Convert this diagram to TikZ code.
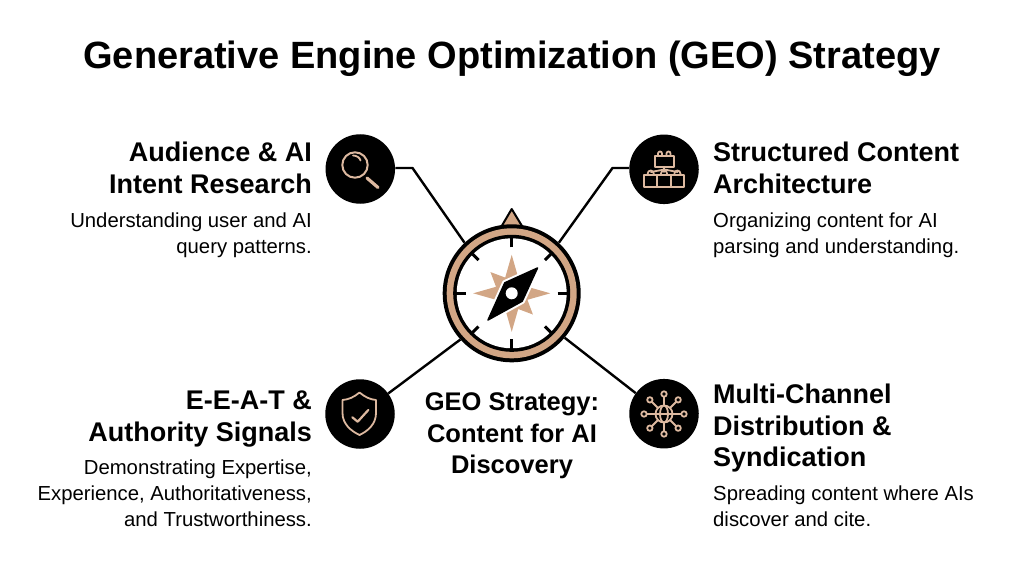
\documentclass[tikz,border=0pt]{standalone}
\usepackage{fontspec}
\setmainfont{Liberation Sans}
\usetikzlibrary{calc}
\definecolor{tanc}{HTML}{D2A685}
\definecolor{icoc}{HTML}{DDB9A0}
\tikzset{
  x=1pt,y=-1pt,
  disc/.style={circle,fill=black,draw=none,minimum size=69.5pt,inner sep=0pt},
  hub/.style={circle,draw=none,minimum size=138pt,inner sep=0pt},
  link/.style={draw=black,line width=2.4pt,line join=round},
  ico/.style={draw=icoc,line width=1.8pt,line join=round,line cap=round},
  tickm/.style={draw=black,line width=3pt},
  headl/.style={font=\fontsize{27}{31.5}\selectfont\bfseries,align=right,anchor=north east,inner sep=0pt},
  headr/.style={font=\fontsize{27}{31.5}\selectfont\bfseries,align=left,anchor=north west,inner sep=0pt},
  bodyl/.style={font=\fontsize{20.3}{26}\selectfont,align=right,anchor=north east,inner sep=0pt},
  bodyr/.style={font=\fontsize{20.3}{26}\selectfont,align=left,anchor=north west,inner sep=0pt}
}
\begin{document}
\begin{tikzpicture}
\useasboundingbox (0,0) rectangle (1024,572);
\fill[white] (0,0) rectangle (1024,572);
\node[font=\fontsize{38}{46}\selectfont\bfseries,inner sep=0pt] (title) at (512,59) {Generative Engine Optimization (GEO) Strategy};
% hub and discs
\node[hub] (hub) at (511.7,293.3) {};
\node[disc] (c1) at (360.3,169) {};
\node[disc] (c2) at (664,169.3) {};
\node[disc] (c3) at (360,414) {};
\node[disc] (c4) at (664,413.7) {};
% connectors
\coordinate (k1) at (412.5,168);
\coordinate (k2) at (612.5,168);
\draw[link] (c1.east |- k1) -- (k1) -- (hub.133);
\draw[link] (c2.west |- k2) -- (k2) -- (hub.47);
\draw[link] (c3.36) -- (hub.222);
\draw[link] (c4.144) -- (hub.320);
% compass
\fill[tanc,draw=black,line width=2pt,line join=round] (501.7,226) -- (511.7,209) -- (522,226) -- cycle;
\fill[black] (hub.center) circle (69);
\fill[tanc] (hub.center) circle (65);
\fill[black] (hub.center) circle (58.5);
\fill[white] (hub.center) circle (55);
\foreach \a in {0,90,180,270}{\draw[tickm] ($(hub.center)+(\a:46)$) -- ($(hub.center)+(\a:55.5)$);}
\foreach \a in {45,135,225,315}{\draw[tickm] ($(hub.center)+(\a:47)$) -- ($(hub.center)+(\a:55.5)$);}
\fill[tanc] ($(hub.center)+(0:38.5)$)
  \foreach \a/\r in {22.5/17,45/30,67.5/17,90/38.5,112.5/17,135/30,157.5/17,180/38.5,202.5/17,225/30,247.5/17,270/38.5,292.5/17,315/30,337.5/17}{ -- ($(hub.center)+(\a:\r)$)} -- cycle;
\path[draw=white,line width=5.5pt,line join=round] (537.5,268) -- (522.2,301.2) -- (488,320) -- (504.8,282.8) -- cycle;
\path[fill=black,draw=black,line width=1.5pt,line join=round] (537.5,268) -- (522.2,301.2) -- (488,320) -- (504.8,282.8) -- cycle;
\fill[white] (hub.center) circle (6);
% icon 1: magnifier
\draw[ico,line width=2pt] (355,165) circle (12.7);
\draw[ico] (353,155.5) .. controls (357,155.5) and (360,158) .. (360.5,160.5);
\draw[ico,line width=3.2pt] (367,178) -- (378,187.5);
% icon 2: blocks
\draw[ico] (655,155.7) rectangle (674,166.7);
\draw[ico] (658,155.7) -- (658,153.5) arc[start angle=180,end angle=360,radius=2] -- (662,155.7);
\draw[ico] (666.5,155.7) -- (666.5,153.5) arc[start angle=180,end angle=360,radius=2] -- (670.5,155.7);
\draw[ico] (664.3,166.7) -- (664.3,172);
\draw[ico] (664.3,169.5) -- (651,172);
\draw[ico] (664.3,169.5) -- (677.5,172);
\draw[ico] (644,175) rectangle (684,186.7);
\draw[ico] (657.3,175) -- (657.3,186.7);
\draw[ico] (670.7,175) -- (670.7,186.7);
\foreach \x in {650.7,664,677.4}{\draw[ico] (\x-3,175) -- (\x-3,173.5) arc[start angle=180,end angle=360,radius=3] -- (\x+3,175);}
% icon 3: shield
\draw[ico] (359.5,392.5) .. controls (354,397) and (349,399.5) .. (342.5,400) -- (342.5,413) .. controls (342.5,424) and (351,431) .. (359.5,435) .. controls (368,431) and (376,424) .. (376,413) -- (376,400) .. controls (370,399.5) and (365,397) .. (359.5,392.5) -- cycle;
\draw[ico,line width=2.2pt] (352.3,417.3) -- (357.7,421.7) -- (368.3,410);
% icon 4: network
\coordinate (g) at (664,414);
\draw[ico] (g) circle (8.5);
\draw[ico] (g) ellipse [x radius=4,y radius=8.5];
\draw[ico] (655.5,414) -- (672.5,414);
\foreach \a in {0,45,...,315}{
  \draw[ico] ($(g)+(\a:8.5)$) -- ($(g)+(\a:17.3)$);
  \draw[ico] ($(g)+(\a:20)$) circle (2.7);
}
% text
\node[headl] (t1) at (312,142) {Audience \& AI\\Intent Research};
\node[bodyl] (b1) at (312,213) {Understanding user and AI\\query patterns.};
\node[headr] (t2) at (713,142) {Structured Content\\Architecture};
\node[bodyr] (b2) at (713,213) {Organizing content for AI\\parsing and understanding.};
\node[headl] (t3) at (312,391) {E-E-A-T \&\\Authority Signals};
\node[bodyl] (b3) at (312,460) {Demonstrating Expertise,\\Experience, Authoritativeness,\\and Trustworthiness.};
\node[headr] (t4) at (713,384) {Multi-Channel\\Distribution \&\\Syndication};
\node[bodyr] (b4) at (713,486) {Spreading content where AIs\\discover and cite.};
\node[font=\fontsize{25.5}{31.5}\selectfont\bfseries,align=center,inner sep=0pt] (t5) at (512,436) {GEO Strategy:\\Content for AI\\Discovery};
\end{tikzpicture}
\end{document}
